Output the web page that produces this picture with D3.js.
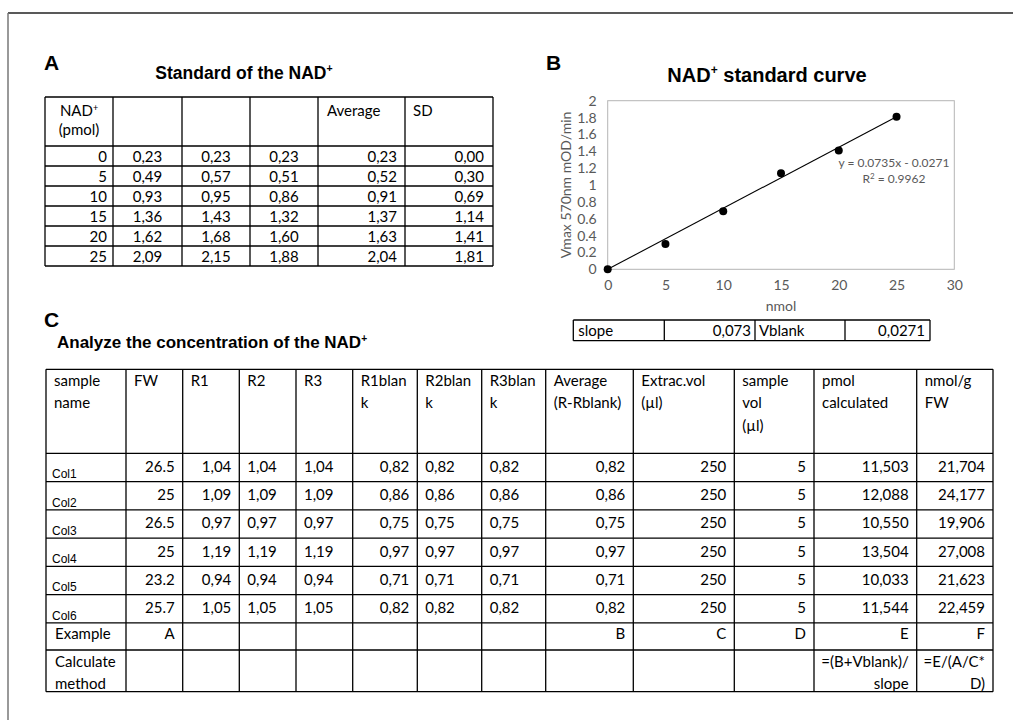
<!DOCTYPE html>
<html lang="en">
<head>
<meta charset="UTF-8">
<title>NAD+ standard and analysis</title>
<style>
  body { margin: 0; background: #fff; }
  svg { display: block; }
  .cell { font-family: Lato, 'Open Sans', sans-serif; font-size: 15px; fill: #000; }
  .arial { font-family: 'Liberation Sans', Arial, sans-serif; }
  .tick text { font-family: Lato, 'Open Sans', sans-serif; font-size: 14px; fill: #595959; }
</style>
</head>
<body>
<div id="chart"></div>
<script src="https://cdn.jsdelivr.net/npm/d3@7"></script>
<script>
  // ---- Panel A: standard of the NAD+ ----
  var stdAmounts = [0, 5, 10, 15, 20, 25];
  var stdRep1 = [0.23, 0.49, 0.93, 1.36, 1.62, 2.09];
  var stdRep2 = [0.23, 0.57, 0.95, 1.43, 1.68, 2.15];
  var stdRep3 = [0.23, 0.51, 0.86, 1.32, 1.60, 1.88];
  var stdAverage = [0.23, 0.52, 0.91, 1.37, 1.63, 2.04];
  var stdSD = [0.00, 0.30, 0.69, 1.14, 1.41, 1.81];

  // ---- Panel B: standard curve (plotted points + linear fit) ----
  var curveX = [0, 5, 10, 15, 20, 25];
  var curveY = [0, 0.30, 0.69, 1.14, 1.41, 1.81];
  var fitSlope = 0.0735, fitIntercept = -0.0271, fitR2 = 0.9962;
  var xTicks = [0, 5, 10, 15, 20, 25, 30];
  var yTicks = [0, 0.2, 0.4, 0.6, 0.8, 1, 1.2, 1.4, 1.6, 1.8, 2];
  var slopeValue = 0.073, vblankValue = 0.0271;

  // ---- Panel C: sample analysis ----
  var sampleNames = ['Col1', 'Col2', 'Col3', 'Col4', 'Col5', 'Col6'];
  var freshWeight = [26.5, 25, 26.5, 25, 23.2, 25.7];
  var r1Reading = [1.04, 1.09, 0.97, 1.19, 0.94, 1.05];
  var r2Reading = [1.04, 1.09, 0.97, 1.19, 0.94, 1.05];
  var r3Reading = [1.04, 1.09, 0.97, 1.19, 0.94, 1.05];
  var r1Blank = [0.82, 0.86, 0.75, 0.97, 0.71, 0.82];
  var r2Blank = [0.82, 0.86, 0.75, 0.97, 0.71, 0.82];
  var r3Blank = [0.82, 0.86, 0.75, 0.97, 0.71, 0.82];
  var avgBlank = [0.82, 0.86, 0.75, 0.97, 0.71, 0.82];
  var extractVol = [250, 250, 250, 250, 250, 250];
  var sampleVol = [5, 5, 5, 5, 5, 5];
  var pmolCalc = [11.503, 12.088, 10.550, 13.504, 10.033, 11.544];
  var nmolPerG = [21.704, 24.177, 19.906, 27.008, 21.623, 22.459];
  var headersC = [['sample', 'name'], ['FW'], ['R1'], ['R2'], ['R3'], ['R1blan', 'k'], ['R2blan', 'k'], ['R3blan', 'k'],
                  ['Average', '(R-Rblank)'], ['Extrac.vol', '(\u00b5l)'], ['sample', 'vol', '(\u00b5l)'], ['pmol', 'calculated'], ['nmol/g', 'FW']];
  var exampleRow = ['Example', 'A', '', '', '', '', '', '', 'B', 'C', 'D', 'E', 'F'];

  var comma = function(f) { return function(v) { return d3.format(f)(v).replace('.', ','); }; };
  var fmt2 = comma('.2f'), fmt3 = comma('.3f');

  var width = 1013, height = 720;
  var svg = d3.select('#chart').append('svg')
      .attr('width', width)
      .attr('height', height);

  // outer frame
  svg.append('line').attr('x1', 8).attr('x2', width).attr('y1', 13).attr('y2', 13)
      .attr('stroke', '#222').attr('stroke-width', 1.5);
  svg.append('line').attr('x1', 8).attr('x2', 8).attr('y1', 13).attr('y2', height)
      .attr('stroke', '#777').attr('stroke-width', 1.5);

  // bold Arial heading ending in a superscript "+", optional trailing text
  function plusTitle(x, y, text, size, anchor, tail) {
    var t = svg.append('text').attr('class', 'arial')
        .attr('x', x).attr('y', y)
        .attr('text-anchor', anchor)
        .style('font-size', size + 'px').style('font-weight', 'bold');
    t.append('tspan').text(text);
    t.append('tspan').attr('dy', -size * 0.38).style('font-size', (size * 0.6) + 'px').text('+');
    if (tail) t.append('tspan').attr('dy', size * 0.38).text(tail);
    return t;
  }

  function panelLetter(x, y, letter) {
    svg.append('text').attr('class', 'arial').attr('x', x).attr('y', y)
        .style('font-size', '21px').style('font-weight', 'bold').text(letter);
  }

  // generic grid table: cells = [{c, r, lines, align, cls, dy, lh}]
  function drawTable(colEdges, rowEdges, cells, pad) {
    var g = svg.append('g');
    g.selectAll('line.v').data(colEdges).enter().append('line')
        .attr('x1', function(d) { return d; }).attr('x2', function(d) { return d; })
        .attr('y1', rowEdges[0]).attr('y2', rowEdges[rowEdges.length - 1])
        .attr('stroke', '#000').attr('stroke-width', 1.3);
    g.selectAll('line.h').data(rowEdges).enter().append('line')
        .attr('y1', function(d) { return d; }).attr('y2', function(d) { return d; })
        .attr('x1', colEdges[0]).attr('x2', colEdges[colEdges.length - 1])
        .attr('stroke', '#000').attr('stroke-width', 1.3);
    cells.forEach(function(cell) {
      var x0 = colEdges[cell.c], x1 = colEdges[cell.c + 1];
      var p = cell.pad != null ? cell.pad : pad;
      var x = cell.align === 'left' ? x0 + p : cell.align === 'right' ? x1 - p : (x0 + x1) / 2;
      var anchor = cell.align === 'left' ? 'start' : cell.align === 'right' ? 'end' : 'middle';
      var t = g.append('text').attr('class', cell.cls || 'cell')
          .attr('text-anchor', anchor);
      cell.lines.forEach(function(line, i) {
        t.append('tspan').attr('x', x)
            .attr('y', rowEdges[cell.r] + cell.dy + i * (cell.lh || 21))
            .text(line);
      });
      if (cell.size) t.style('font-size', cell.size + 'px');
    });
    return g;
  }

  // ================= Panel A =================
  panelLetter(44, 70, 'A');
  plusTitle(244, 79, 'Standard of the NAD', 17.5, 'middle');

  var colsA = [45, 113, 182, 250, 318, 405, 493];
  var rowsA = [97, 146].concat(stdAmounts.map(function(d, i) { return 166 + i * 20; }));
  var cellsA = [];
  cellsA.push({ c: 0, r: 0, lines: ['NAD', '(pmol)'], align: 'middle', dy: 19, lh: 19 });
  cellsA.push({ c: 4, r: 0, lines: ['Average'], align: 'left', dy: 19, pad: 9 });
  cellsA.push({ c: 5, r: 0, lines: ['SD'], align: 'left', dy: 19, pad: 8 });
  stdAmounts.forEach(function(a, i) {
    var r = i + 1, dy = 15.5;
    cellsA.push({ c: 0, r: r, lines: [String(a)], align: 'right', dy: dy, pad: 6 });
    cellsA.push({ c: 1, r: r, lines: [fmt2(stdRep1[i])], align: 'middle', dy: dy });
    cellsA.push({ c: 2, r: r, lines: [fmt2(stdRep2[i])], align: 'middle', dy: dy });
    cellsA.push({ c: 3, r: r, lines: [fmt2(stdRep3[i])], align: 'middle', dy: dy });
    cellsA.push({ c: 4, r: r, lines: [fmt2(stdAverage[i])], align: 'right', dy: dy, pad: 8 });
    cellsA.push({ c: 5, r: r, lines: [fmt2(stdSD[i])], align: 'right', dy: dy, pad: 9 });
  });
  var tableA = drawTable(colsA, rowsA, cellsA, 8);
  // superscript plus on NAD
  tableA.select('text tspan').append('tspan').attr('dy', -5).style('font-size', '9px').text('+');

  // ================= Panel B =================
  panelLetter(546, 70, 'B');
  plusTitle(767, 82, 'NAD', 20, 'middle', ' standard curve');

  var x = d3.scaleLinear().domain([0, 30]).range([607.7, 954.3]);
  var y = d3.scaleLinear().domain([0, 2]).range([269.3, 100.7]);

  svg.append('rect')
      .attr('x', x(0)).attr('y', y(2))
      .attr('width', x(30) - x(0)).attr('height', y(0) - y(2))
      .attr('fill', 'none').attr('stroke', '#b5b5b5').attr('stroke-width', 1);

  svg.append('g')
      .attr('transform', 'translate(0,' + y(0) + ')')
      .call(d3.axisBottom(x).tickValues(xTicks).tickSize(0).tickPadding(11).tickFormat(d3.format('d')))
      .call(function(g) { g.select('.domain').remove(); });

  svg.append('g')
      .attr('transform', 'translate(' + x(0) + ',0)')
      .call(d3.axisLeft(y).tickValues(yTicks).tickSize(0).tickPadding(11).tickFormat(d3.format('~g')))
      .call(function(g) { g.select('.domain').remove(); });

  svg.append('text').attr('class', 'cell')
      .attr('x', x(15)).attr('y', 311)
      .attr('text-anchor', 'middle')
      .style('fill', '#595959').style('font-size', '14px')
      .text('nmol');

  svg.append('text').attr('class', 'cell')
      .attr('transform', 'translate(571,185) rotate(-90)')
      .attr('text-anchor', 'middle')
      .style('fill', '#595959').style('font-size', '14px')
      .text('Vmax 570nm mOD/min');

  var fit = d3.line()
      .x(function(d) { return x(d); })
      .y(function(d) { return y(Math.max(0, fitSlope * d + fitIntercept)); });
  svg.append('path')
      .datum([curveX[0], curveX[curveX.length - 1]])
      .attr('d', fit)
      .attr('fill', 'none').attr('stroke', '#000').attr('stroke-width', 1.1);

  svg.selectAll('circle.pt').data(curveX).enter().append('circle')
      .attr('class', 'pt')
      .attr('cx', function(d) { return x(d); })
      .attr('cy', function(d, i) { return y(curveY[i]); })
      .attr('r', 4)
      .attr('fill', '#000');

  var eq = svg.append('text').attr('class', 'cell')
      .attr('text-anchor', 'middle')
      .style('fill', '#595959').style('font-size', '12px');
  eq.append('tspan').attr('x', 894).attr('y', 167)
      .text('y = ' + fitSlope + 'x - ' + Math.abs(fitIntercept));
  var r2 = eq.append('tspan').attr('x', 894).attr('y', 183).text('R');
  r2.append('tspan').attr('dy', -4).style('font-size', '8px').text('2');
  r2.append('tspan').attr('dy', 4).text(' = ' + fitR2);

  drawTable([573.3, 664.3, 755, 845, 930], [320, 340.7], [
    { c: 0, r: 0, lines: ['slope'], align: 'left', dy: 15.5, pad: 5, size: 15 },
    { c: 1, r: 0, lines: [comma('.3f')(slopeValue)], align: 'right', dy: 15.5, pad: 4, size: 15 },
    { c: 2, r: 0, lines: ['Vblank'], align: 'left', dy: 15.5, pad: 4, size: 15 },
    { c: 3, r: 0, lines: [comma('.4f')(vblankValue)], align: 'right', dy: 15.5, pad: 5, size: 15 }
  ], 5);

  // ================= Panel C =================
  panelLetter(44, 327, 'C');
  plusTitle(57, 348, 'Analyze the concentration of the NAD', 17, 'start');

  var colsC = [46, 126, 182.7, 239.3, 296, 352.7, 417.3, 481.7, 545.7, 633.3, 734.3, 814, 916.7, 993];
  var dataTop = 453.3, rowH = 28.25;
  var rowsC = [369.3].concat(d3.range(sampleNames.length + 1).map(function(i) { return dataTop + i * rowH; }))
      .concat([650, 691.7]);

  var cellsC = [];
  headersC.forEach(function(h, c) {
    cellsC.push({ c: c, r: 0, lines: h, align: 'left', dy: 16.5, lh: 22.5, pad: 8 });
  });
  var alignC = ['left', 'right', 'right', 'left', 'left', 'right', 'left', 'left', 'right', 'right', 'right', 'right', 'right'];
  sampleNames.forEach(function(name, i) {
    var vals = [name, d3.format('~g')(freshWeight[i]), fmt2(r1Reading[i]), fmt2(r2Reading[i]), fmt2(r3Reading[i]),
                fmt2(r1Blank[i]), fmt2(r2Blank[i]), fmt2(r3Blank[i]), fmt2(avgBlank[i]),
                String(extractVol[i]), String(sampleVol[i]), fmt3(pmolCalc[i]), fmt3(nmolPerG[i])];
    vals.forEach(function(v, c) {
      if (c === 0) cellsC.push({ c: c, r: i + 1, lines: [v], align: 'left', dy: 25, pad: 6, cls: 'arial', size: 12 });
      else cellsC.push({ c: c, r: i + 1, lines: [v], align: alignC[c], dy: 18.5, pad: 8 });
    });
  });
  var exRow = sampleNames.length + 1;
  exampleRow.forEach(function(v, c) {
    if (v) cellsC.push({ c: c, r: exRow, lines: [v], align: c === 0 ? 'left' : 'right', dy: 16.5, pad: c === 0 ? 9 : 8 });
  });
  cellsC.push({ c: 0, r: exRow + 1, lines: ['Calculate', 'method'], align: 'left', dy: 17, lh: 21.5, pad: 9 });
  cellsC.push({ c: 11, r: exRow + 1, lines: ['=(B+Vblank)/', 'slope'], align: 'right', dy: 17, lh: 21.5, pad: 8 });
  cellsC.push({ c: 12, r: exRow + 1, lines: ['=E/(A/C*', 'D)'], align: 'right', dy: 17, lh: 21.5, pad: 8 });
  drawTable(colsC, rowsC, cellsC, 8);
</script>
</body>
</html>
